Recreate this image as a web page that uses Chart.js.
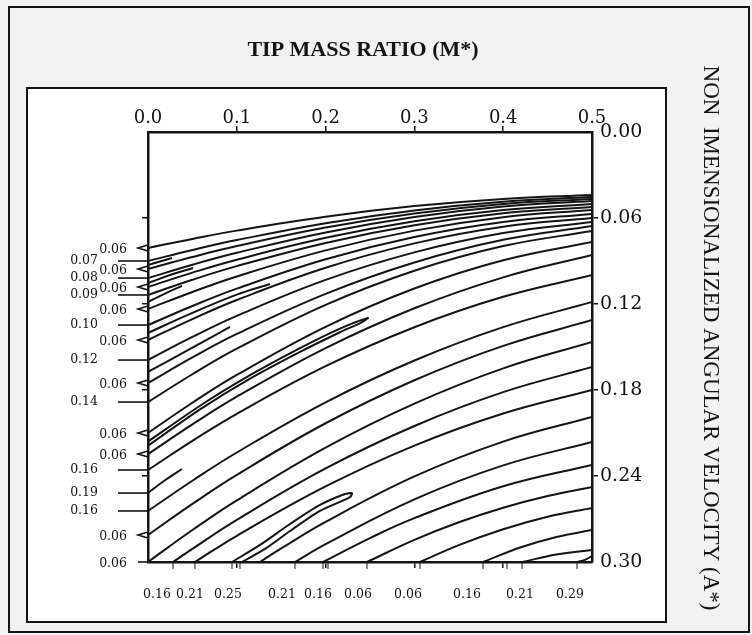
<!DOCTYPE html>
<html><head><meta charset="utf-8">
<script src="https://cdn.jsdelivr.net/npm/chart.js@4.4.1/dist/chart.umd.min.js"></script>
<style>html,body{margin:0;padding:0;background:#fff;}canvas{display:block}</style>
</head><body>
<canvas id="c" width="752" height="635"></canvas>
<script>
// ---- axis ticks ----
const massTicks = [0, 0.1, 0.2, 0.3, 0.4, 0.5];
const velocityTicks = [0, 0.06, 0.12, 0.18, 0.24, 0.30];

// ---- contour lines that start on the left edge (M* = 0): A* values at these M* ----
const gridM = [0, 0.05, 0.1, 0.2, 0.3, 0.4, 0.5];
const leftContours = [
  [0.0809, 0.0746, 0.0688, 0.0591, 0.0517, 0.0467, 0.0440],
  [0.0900, 0.0823, 0.0754, 0.0636, 0.0547, 0.0486, 0.0454],
  [0.0956, 0.0872, 0.0796, 0.0667, 0.0569, 0.0502, 0.0467],
  [0.1019, 0.0926, 0.0843, 0.0701, 0.0593, 0.0520, 0.0481],
  [0.1081, 0.0981, 0.0891, 0.0738, 0.0622, 0.0544, 0.0502],
  [0.1137, 0.1031, 0.0936, 0.0774, 0.0651, 0.0567, 0.0523],
  [0.1235, 0.1116, 0.1008, 0.0826, 0.0688, 0.0594, 0.0544],
  [0.1347, 0.1214, 0.1093, 0.0888, 0.0733, 0.0628, 0.0572],
  [0.1451, 0.1305, 0.1172, 0.0947, 0.0777, 0.0661, 0.0600],
  [0.1591, 0.1430, 0.1283, 0.1032, 0.0840, 0.0705, 0.0628],
  [0.1751, 0.1573, 0.1409, 0.1129, 0.0910, 0.0752, 0.0656],
  [0.1884, 0.1690, 0.1512, 0.1206, 0.0968, 0.0796, 0.0691],
  [0.2100, 0.1889, 0.1695, 0.1359, 0.1092, 0.0895, 0.0767],
  [0.2247, 0.2040, 0.1847, 0.1508, 0.1230, 0.1014, 0.0858],
  [0.2358, 0.2155, 0.1966, 0.1634, 0.1362, 0.1150, 0.0998],
  [0.2644, 0.2433, 0.2236, 0.1886, 0.1594, 0.1361, 0.1186],
  [0.2812, 0.2595, 0.2392, 0.2032, 0.1732, 0.1492, 0.1312],
  [0.3000, 0.2777, 0.2570, 0.2202, 0.1895, 0.1649, 0.1465]
];

// ---- contour lines that start on the bottom edge: [M*, A*] points ----
const bottomContours = [
  [[0.0282,0.300],[0.05,0.2908],[0.1,0.2706],[0.2,0.2347],[0.3,0.2051],[0.4,0.1815],[0.5,0.1640]],
  [[0.0529,0.300],[0.1,0.2817],[0.2,0.2473],[0.3,0.2188],[0.4,0.1964],[0.5,0.1800]],
  [[0.1261,0.300],[0.15,0.2905],[0.2,0.2720],[0.3,0.2403],[0.4,0.2160],[0.5,0.1988]],
  [[0.1655,0.300],[0.2,0.2875],[0.3,0.2563],[0.4,0.2326],[0.5,0.2163]],
  [[0.1971,0.300],[0.25,0.2833],[0.3,0.2694],[0.4,0.2472],[0.5,0.2323]],
  [[0.2466,0.300],[0.3,0.2846],[0.35,0.2723],[0.4,0.2621],[0.45,0.2539],[0.5,0.2477]],
  [[0.3063,0.300],[0.35,0.2882],[0.4,0.2771],[0.45,0.2684],[0.5,0.2623]],
  [[0.3773,0.300],[0.42,0.2897],[0.46,0.2825],[0.5,0.2777]],
  [[0.4212,0.300],[0.46,0.2948],[0.5,0.2916]],
  [[0.4831,0.300],[0.492,0.2985],[0.5,0.2958]]
];

// ---- short closed contours (tips) and thin loops ----
const stubContours = [
  [[0,0.0928],[0.0135,0.0903],[0.0270,0.0879]],
  [[0,0.1054],[0.0248,0.0998],[0.0507,0.0949]],
  [[0,0.1186],[0.0191,0.1127],[0.0383,0.1074]],
  [[0,0.1402],[0.05,0.1262],[0.1,0.1135],[0.1374,0.1060]],
  [[0,0.1674],[0.05,0.1505],[0.0923,0.1360]],
  [[0,0.2519],[0.0191,0.2430],[0.0383,0.2351]]
];
const middleLoop = [[0,0.2160],[0.0586,0.1910],[0.1149,0.1697],[0.1712,0.1508],[0.2162,0.1372],[0.2477,0.1298],
  [0.2400,0.1330],[0.2162,0.1397],[0.1712,0.1534],[0.1149,0.1721],[0.0586,0.1935],[0,0.2188]];
const lowerLoop = [[0.0946,0.300],[0.1261,0.2881],[0.1599,0.2735],[0.1937,0.2602],[0.2218,0.2526],[0.2297,0.2519],
  [0.2275,0.2547],[0.1937,0.2644],[0.1599,0.2784],[0.1318,0.2909],[0.1059,0.300]];

// ---- contour value labels on the left edge ----
const leftLabelA = [0.0809,0.0900,0.0956,0.1019,0.1081,0.1137,0.1235,0.1347,0.1451,0.1591,0.1751,0.1884,0.2100,0.2247,0.2358,0.2519,0.2644,0.2812,0.3000];
const leftLabelText = ['0.06','0.07','0.06','0.08','0.06','0.09','0.06','0.10','0.06','0.12','0.06','0.14','0.06','0.06','0.16','0.19','0.16','0.06','0.06'];
const leftLabelLong = [0,1,0,1,0,1,0,1,0,1,0,1,0,0,1,1,1,0,0];

// ---- contour value labels along the bottom edge ----
const bottomTickM = [0.0282,0.0529,0.0946,0.1036,0.1655,0.1971,0.2027,0.2466,0.3063,0.3773,0.4043,0.4212,0.4831];
const bottomLabelM = [0.0101,0.0473,0.0901,0.1509,0.1914,0.2365,0.2928,0.3592,0.4189,0.4752];
const bottomLabelText = ['0.16','0.21','0.25','0.21','0.16','0.06','0.06','0.16','0.21','0.29'];

const INK = '#141414';
const NUM_FONT = '"DejaVu Serif", serif';
const TXT_FONT = '"Liberation Serif", "Times New Roman", serif';

function mk(points, tension) {
  return { data: points, showLine: true, borderColor: INK, borderWidth: 2, pointRadius: 0,
           tension: tension, fill: false, xAxisID: 'x', yAxisID: 'y' };
}
const datasets = [];
leftContours.forEach(ys => datasets.push(mk(gridM.map((m, i) => ({ x: m, y: ys[i] })), 0.4)));
bottomContours.forEach(p => datasets.push(mk(p.map(q => ({ x: q[0], y: q[1] })), 0.4)));
stubContours.forEach(p => datasets.push(mk(p.map(q => ({ x: q[0], y: q[1] })), 0.4)));
datasets.push(mk(middleLoop.map(q => ({ x: q[0], y: q[1] })), 0.25));
datasets.push(mk(lowerLoop.map(q => ({ x: q[0], y: q[1] })), 0.25));

const decor = {
  id: 'decor',
  beforeDraw(chart) {
    const c = chart.ctx; c.save();
    c.fillStyle = '#f2f2f2'; c.fillRect(0, 0, 752, 635);
    c.fillStyle = '#ffffff'; c.fillRect(27, 88, 639, 534);
    c.strokeStyle = INK; c.lineWidth = 2;
    c.strokeRect(9, 7, 740, 625);
    c.strokeRect(27, 88, 639, 534);
    c.restore();
  },
  afterDraw(chart) {
    const c = chart.ctx, xs = chart.scales.x, ys = chart.scales.y, a = chart.chartArea;
    c.save();
    c.fillStyle = INK; c.strokeStyle = INK;
    // titles
    c.font = 'bold 22px ' + TXT_FONT; c.textAlign = 'center'; c.textBaseline = 'middle';
    c.fillText('TIP MASS RATIO (M*)', 363, 50);
    c.save(); c.translate(710, 338); c.rotate(Math.PI / 2);
    c.font = '23px ' + TXT_FONT;
    c.fillText('NON  IMENSIONALIZED ANGULAR VELOCITY (A*)', 0, 0);
    c.restore();
    // left contour labels
    c.font = '12.5px ' + NUM_FONT; c.textAlign = 'right'; c.lineWidth = 1.6;
    leftLabelA.forEach((v, i) => {
      const y = ys.getPixelForValue(v);
      const long = leftLabelLong[i] === 1;
      c.beginPath();
      if (long) {
        c.moveTo(a.left - 30, y); c.lineTo(a.left, y);
      } else if (i === leftLabelA.length - 1) {
        c.moveTo(a.left - 10, y); c.lineTo(a.left, y);
      } else {
        c.moveTo(a.left, y - 3); c.lineTo(a.left - 10, y); c.lineTo(a.left, y + 3);
      }
      c.stroke();
      c.fillText(leftLabelText[i], a.left - (long ? 50 : 21), y + (long ? 0 : 2));
    });
    // bottom contour ticks and labels
    c.lineWidth = 1;
    bottomTickM.forEach(m => {
      const x = xs.getPixelForValue(m);
      c.beginPath(); c.moveTo(x, a.bottom); c.lineTo(x, a.bottom + 7); c.stroke();
    });
    c.textAlign = 'center';
    bottomLabelM.forEach((m, i) => c.fillText(bottomLabelText[i], xs.getPixelForValue(m), a.bottom + 33));
    c.restore();
  }
};

// corner ticks (first and last) are hidden as in the original
const tickColor = ctx => (ctx.index === 0 || ctx.index === 5) ? 'rgba(0,0,0,0)' : INK;
const axisCommon = {
  type: 'linear',
  grid: { drawOnChartArea: false, tickLength: 6, color: tickColor, lineWidth: 1.5 },
  border: { color: INK, width: 2.5 }
};

new Chart(document.getElementById('c'), {
  type: 'scatter',
  data: { datasets },
  options: {
    responsive: false, animation: false, devicePixelRatio: 1,
    layout: { padding: { left: 138, right: 100, top: 92, bottom: 63 } },
    plugins: { legend: { display: false }, tooltip: { enabled: false } },
    scales: {
      x: Object.assign({}, axisCommon, {
        position: 'top', min: 0, max: 0.5,
        afterBuildTicks: s => { s.ticks = massTicks.map(v => ({ value: v })); },
        ticks: { callback: v => Number(v).toFixed(1), font: { family: NUM_FONT, size: 18 }, color: INK, padding: -3, maxRotation: 0, autoSkip: false },
        afterFit: s => { s.height = 40; }
      }),
      x2: Object.assign({}, axisCommon, {
        position: 'bottom', min: 0, max: 0.5,
        afterBuildTicks: s => { s.ticks = massTicks.map(v => ({ value: v })); },
        ticks: { display: false },
        afterFit: s => { s.height = 10; }
      }),
      y: Object.assign({}, axisCommon, {
        position: 'right', reverse: true, min: 0, max: 0.30,
        afterBuildTicks: s => { s.ticks = velocityTicks.map(v => ({ value: v })); },
        ticks: { callback: v => Number(v).toFixed(2), font: { family: NUM_FONT, size: 19 }, color: INK, padding: 2, autoSkip: false },
        afterFit: s => { s.width = 60; }
      }),
      y2: Object.assign({}, axisCommon, {
        position: 'left', reverse: true, min: 0, max: 0.30,
        afterBuildTicks: s => { s.ticks = velocityTicks.map(v => ({ value: v })); },
        ticks: { display: false },
        afterFit: s => { s.width = 10; }
      })
    }
  },
  plugins: [decor]
});
</script>
</body></html>
